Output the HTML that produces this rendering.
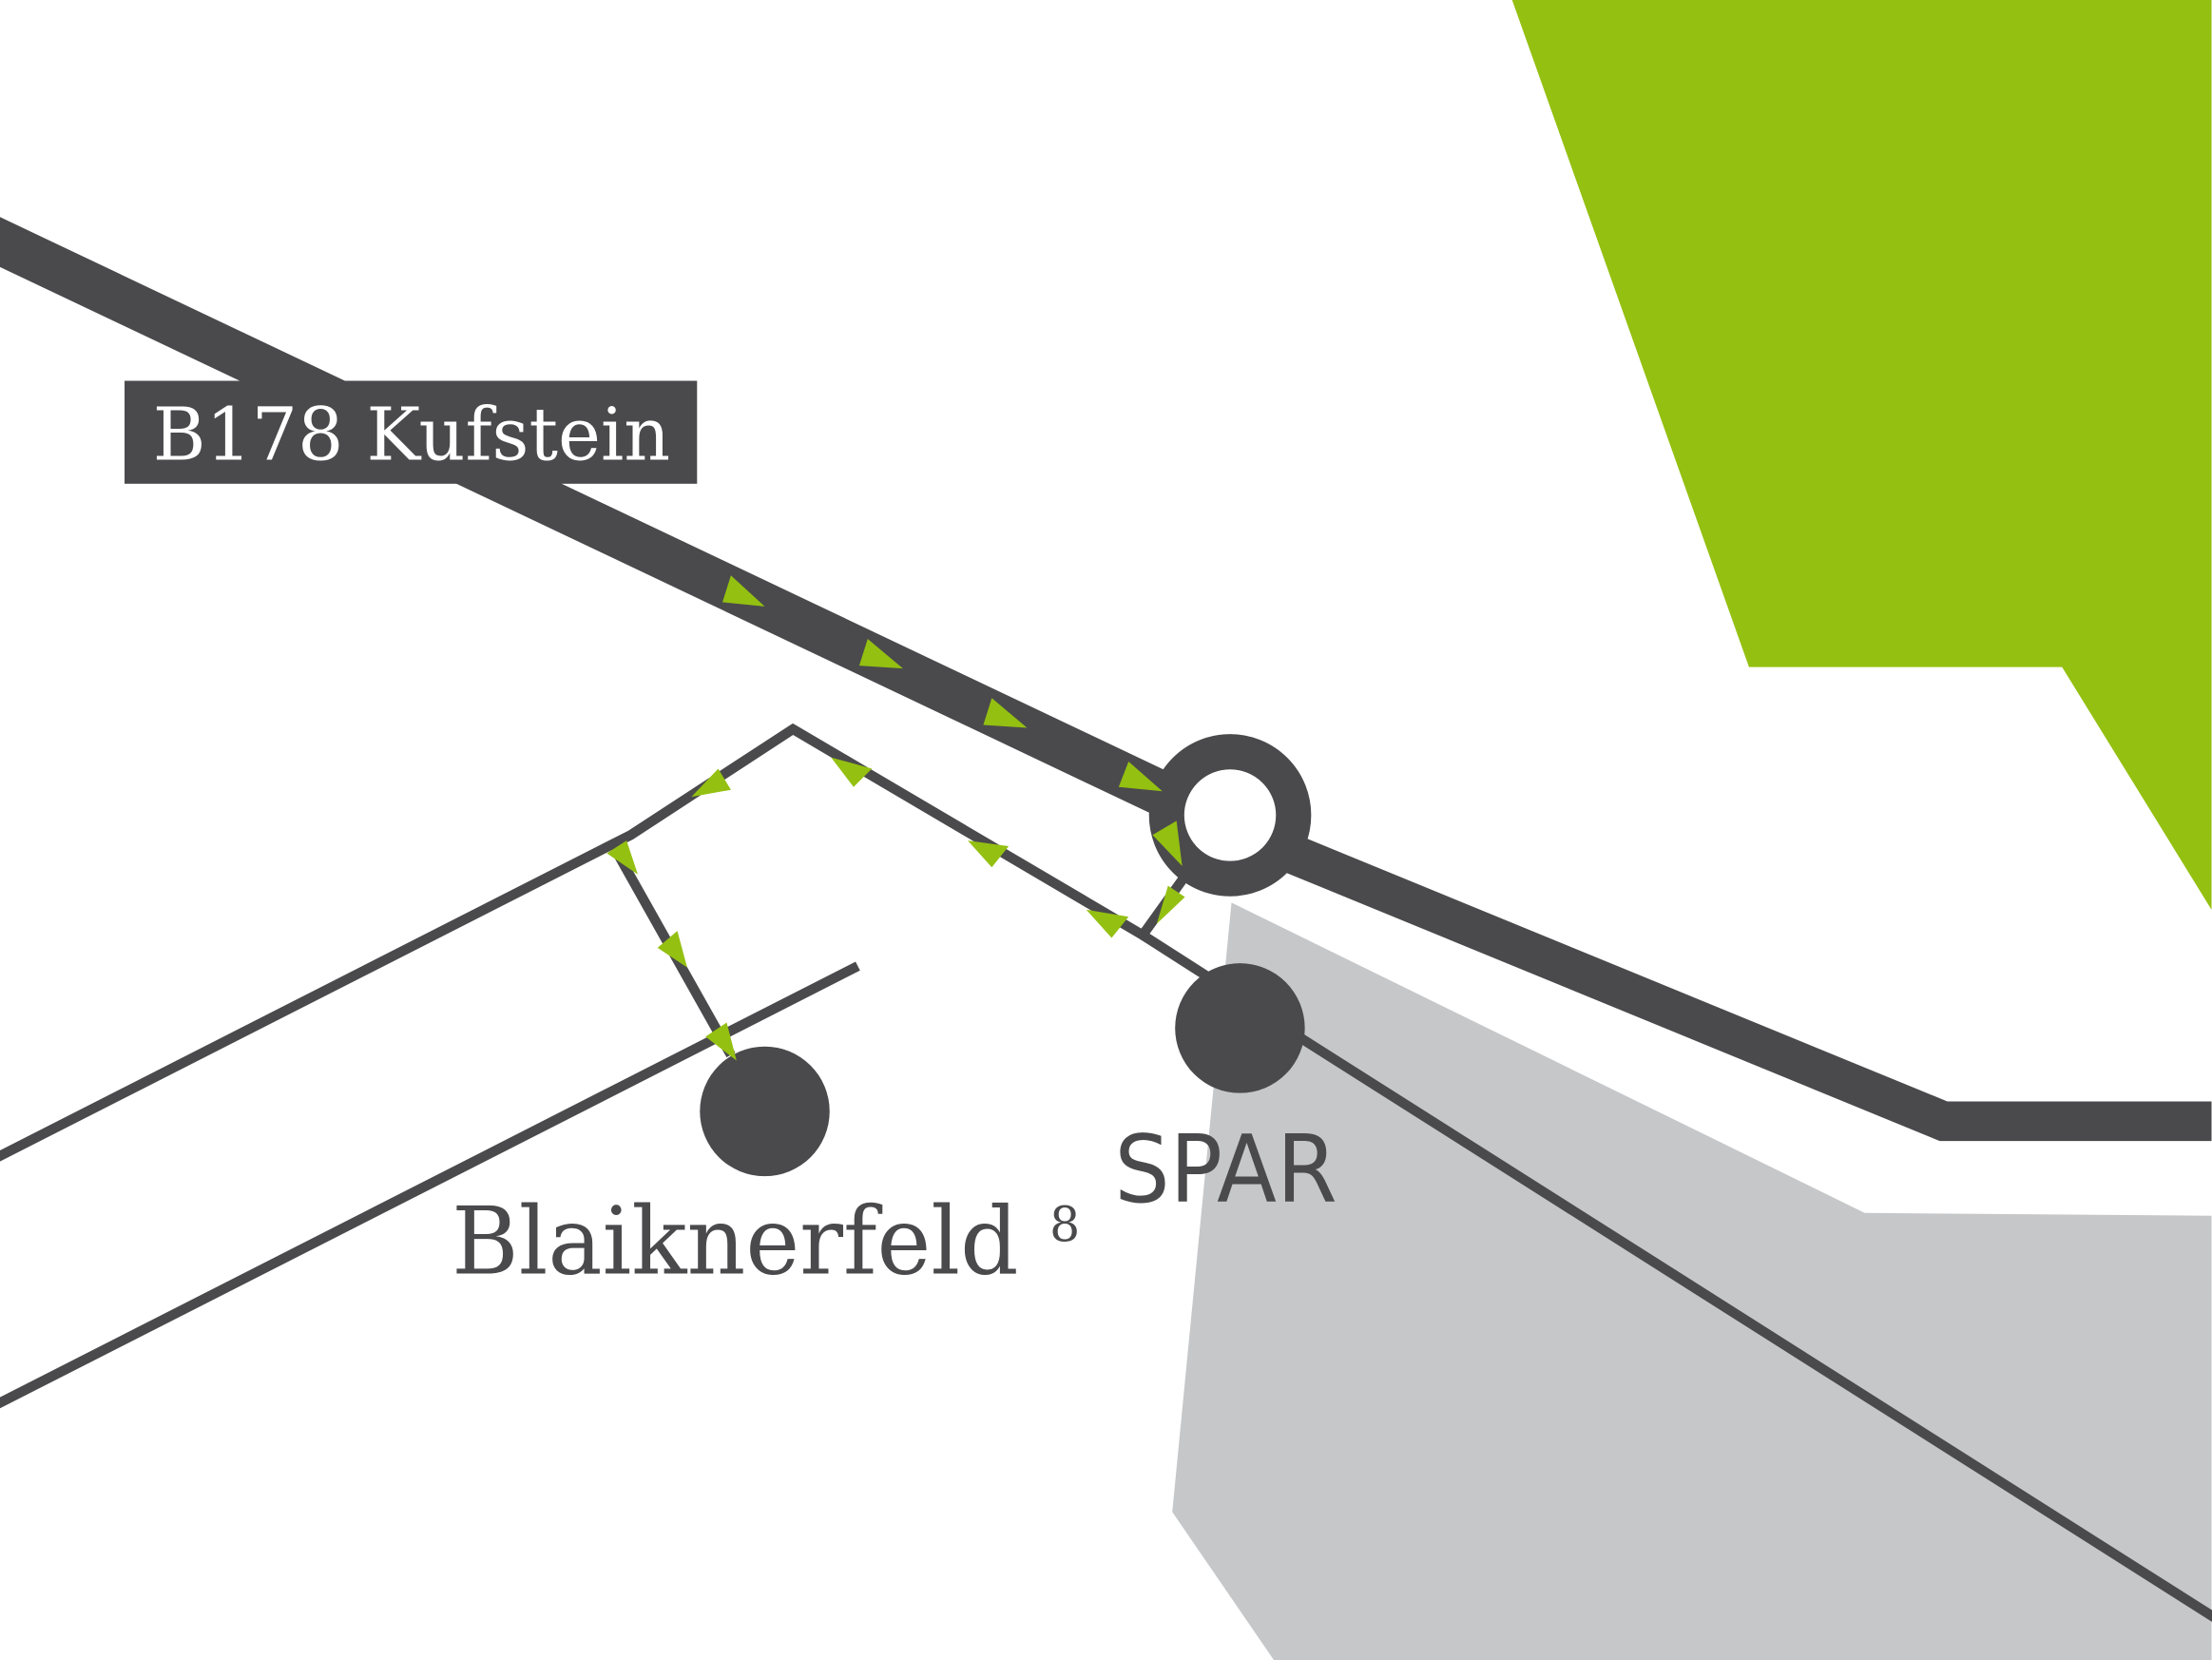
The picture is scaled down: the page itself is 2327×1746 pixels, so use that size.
<!DOCTYPE html>
<html><head><meta charset="utf-8"><style>html,body{margin:0;padding:0;background:#fff}svg{display:block}</style></head>
<body>
<svg width="2327" height="1746" viewBox="0 0 1568 1177" xmlns="http://www.w3.org/2000/svg">
<rect width="1568" height="1177" fill="#fff"/>
<polygon points="1072,0 1568,0 1568,645 1462,473 1240,473" fill="#94c011"/>
<polygon points="873,640 1322,860 1568,862 1568,1177 903,1177 831,1072" fill="#c6c7c9"/>
<g stroke="#4a4a4c" fill="none" stroke-linecap="butt">
<polyline points="-10,167 822,562" stroke-width="32"/>
<polyline points="915,605 1378,795 1568,795" stroke-width="28"/>
<circle cx="872" cy="578" r="45" stroke-width="25" fill="#fff"/>
<polyline points="-5,822 447,592 562,517 810,663 838,624" stroke-width="7"/>
<polyline points="437,604 518,748" stroke-width="7"/>
<polyline points="-5,997 608,685" stroke-width="7"/>
<polyline points="810,663 860,695" stroke-width="7"/>
<polyline points="900,722 1575,1150" stroke-width="7"/>
</g>
<circle cx="542" cy="788" r="46" fill="#4a4a4c"/>
<circle cx="879" cy="729" r="46" fill="#4a4a4c"/>
<g fill="#94c011">
<polygon points="518,408 542,430 512,427"/>
<polygon points="615,453 640,474 609,472"/>
<polygon points="703,495 728,516 697,514"/>
<polygon points="800,540 824,561 793,558"/>
<polygon points="834,582 838,614 817,592"/>
<polygon points="828,628 840,636 820,655"/>
<polygon points="490,565 509,545 518,560"/>
<polygon points="589,537 618,545 605,558"/>
<polygon points="686,596 715,600 703,615"/>
<polygon points="770,645 800,650 788,665"/>
<polygon points="430,605 444,596 452,620"/>
<polygon points="480,660 487,686 466,672"/>
<polygon points="500,735 515,725 522,752"/>
</g>
<rect x="88" y="270" width="406" height="73" fill="#4a4a4c"/>
<text x="108" y="326" font-family="DejaVu Serif, serif" font-size="52" fill="#fff" textLength="367" lengthAdjust="spacingAndGlyphs">B178 Kufstein</text>
<text x="320" y="903" font-family="DejaVu Serif, serif" font-size="66" fill="#4a4a4c" textLength="402" lengthAdjust="spacingAndGlyphs">Blaiknerfeld</text>
<text x="744" y="880" font-family="DejaVu Serif, serif" font-size="34" fill="#4a4a4c">8</text>
<text x="790" y="852" font-family="DejaVu Sans, sans-serif" font-size="66" fill="#4a4a4c" textLength="158" lengthAdjust="spacingAndGlyphs">SPAR</text>
</svg>
</body></html>
